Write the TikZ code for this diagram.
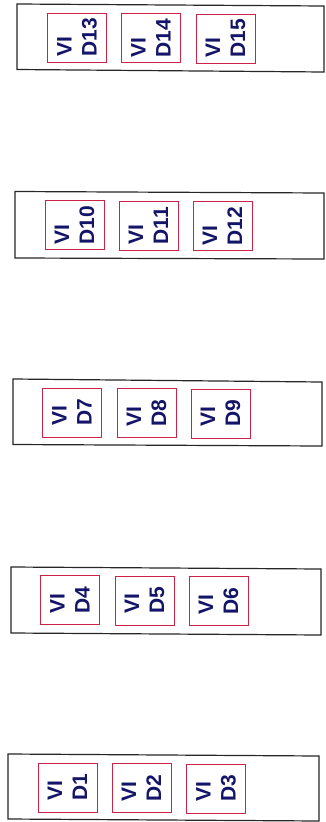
\documentclass[tikz,border=0pt]{standalone}
\usepackage{fontspec}
\setmainfont{Liberation Sans}
\begin{document}
\begin{tikzpicture}[x=1pt,y=-1pt,
  outerbox/.style={draw=black!85,line width=1.2pt},
  dbox/.style={draw={rgb,255:red,205;green,35;blue,70},line width=1pt,rotate=90,
    minimum width=49pt,minimum height=59pt,inner sep=0pt,align=left,
    text={rgb,255:red,20;green,20;blue,105},
    font=\fontsize{21}{25}\selectfont\bfseries}]
\useasboundingbox (0,0) rectangle (325,822);
\fill[white] (0,0) rectangle (325,822);
% outer frames
\draw[outerbox] (17,4) -- (324,6) -- (324,72) -- (17,69.5) -- cycle;
\draw[outerbox] (15,191.5) -- (324,193) -- (324,259) -- (15,258) -- cycle;
\draw[outerbox] (13,379) -- (322,382) -- (322,446) -- (13,444.5) -- cycle;
\draw[outerbox] (11,567) -- (321,569) -- (321,635) -- (11,633) -- cycle;
\draw[outerbox] (8,754) -- (319,756) -- (319,821) -- (8,819) -- cycle;
% row 1
\node[dbox] (d13) at (77,37.5) {VI\\D13};
\node[dbox] (d14) at (151,38) {VI\\D14};
\node[dbox] (d15) at (225.5,38.5) {VI\\D15};
% row 2
\node[dbox] (d10) at (74.5,225) {VI\\D10};
\node[dbox] (d11) at (148.5,225.5) {VI\\D11};
\node[dbox] (d12) at (222.5,226) {VI\\D12};
% row 3
\node[dbox] (d7) at (72,412.5) {VI\\D7};
\node[dbox] (d8) at (146.5,413) {VI\\D8};
\node[dbox] (d9) at (220.5,413.5) {VI\\D9};
% row 4
\node[dbox] (d4) at (70,600) {VI\\D4};
\node[dbox] (d5) at (144.5,600.5) {VI\\D5};
\node[dbox] (d6) at (218.5,601) {VI\\D6};
% row 5
\node[dbox] (d1) at (67.5,787.5) {VI\\D1};
\node[dbox] (d2) at (141.5,788) {VI\\D2};
\node[dbox] (d3) at (216,788.5) {VI\\D3};
\end{tikzpicture}
\end{document}
